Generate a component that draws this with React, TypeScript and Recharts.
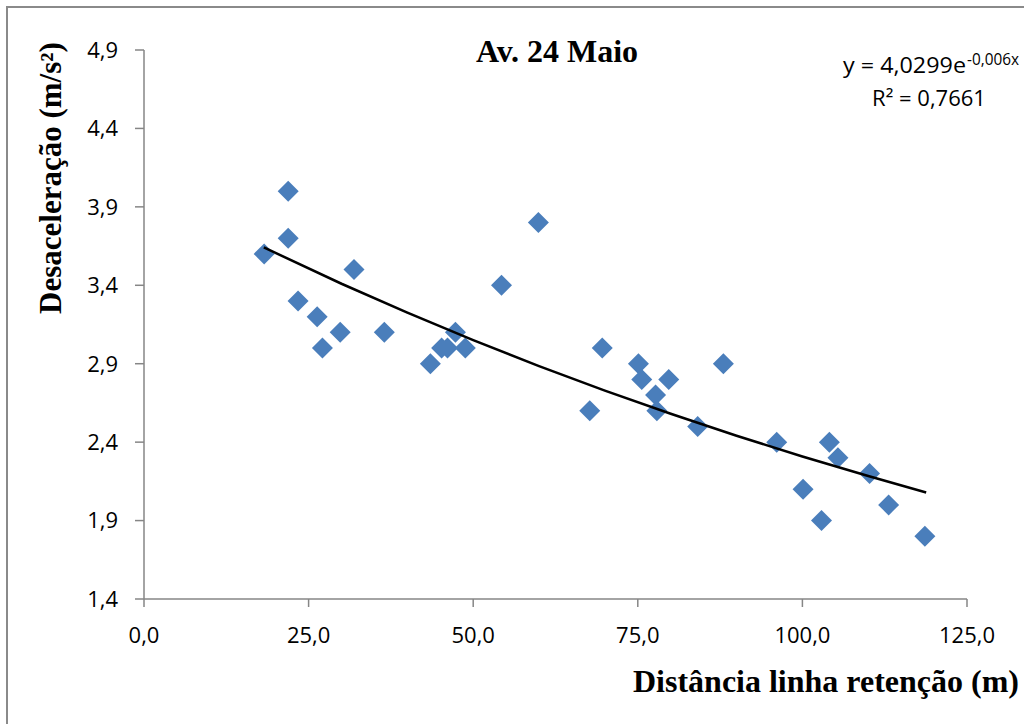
import React from 'react';
import { ScatterChart, Scatter, XAxis, YAxis } from 'recharts';

const distances = [18.25, 21.9, 21.9, 23.4, 26.3, 27.1, 29.8, 31.9, 36.5, 43.5, 45.2, 46.1, 47.3, 48.8, 54.3, 59.9, 67.7, 69.6, 75.1, 75.6, 77.7, 77.9, 79.7, 84.1, 88.0, 96.1, 100.1, 102.9, 104.1, 105.4, 110.2, 113.1, 118.6];
const decels = [3.6, 4.0, 3.7, 3.3, 3.2, 3.0, 3.1, 3.5, 3.1, 2.9, 3.0, 3.0, 3.1, 3.0, 3.4, 3.8, 2.6, 3.0, 2.9, 2.8, 2.7, 2.6, 2.8, 2.5, 2.9, 2.4, 2.1, 1.9, 2.4, 2.3, 2.2, 2.0, 1.8];

const trendX = [18.2, 30, 40, 50, 60, 70, 80, 90, 100, 110, 118.8];
const trendY = [3.6414, 3.4098, 3.2251, 3.0504, 2.8851, 2.7288, 2.581, 2.4411, 2.3089, 2.1838, 2.0794];

const xTicks = [0, 25, 50, 75, 100, 125];
const yTicks = [1.4, 1.9, 2.4, 2.9, 3.4, 3.9, 4.4, 4.9];

const title = 'Av. 24 Maio';
const xTitle = 'Distância linha retenção (m)';
const yTitle = 'Desaceleração (m/s²)';
const eqMain = 'y = 4,0299e';
const eqSup = '-0,006x';
const eqR2 = 'R² = 0,7661';

const points = distances.map((x, i) => ({ x, y: decels[i] }));
const trend = trendX.map((x, i) => ({ x, y: trendY[i] }));

const fmt = (v: number) => v.toFixed(1).replace('.', ',');

const AXIS = '#868686';
const BLUE = '#4A7EBB';

const Diamond = (props: any) => {
  const { cx, cy } = props;
  if (cx == null || cy == null) return <g />;
  const r = 10.5;
  return <path d={`M${cx},${cy - r}L${cx + r},${cy}L${cx},${cy + r}L${cx - r},${cy}Z`} fill={BLUE} />;
};

const NoShape = () => <g />;

export default function App() {
  return (
    <div style={{ position: 'absolute', left: 0, top: 0, width: 1024, height: 724, overflow: 'hidden', background: '#fff' }}>
      <div style={{ position: 'absolute', left: 6, top: 6, width: 1100, height: 800, border: '2px solid #8a8a8a', boxSizing: 'border-box' }} />
      <div style={{ position: 'absolute', left: 0, top: 0 }}>
        <ScatterChart width={1024} height={724} margin={{ top: 50, right: 57, left: 0, bottom: 0 }}>
          <XAxis
            type="number"
            dataKey="x"
            domain={[0, 125]}
            ticks={xTicks}
            interval={0}
            tickFormatter={fmt}
            height={125}
            axisLine={{ stroke: AXIS, strokeWidth: 1.5 }}
            tickLine={{ stroke: AXIS, strokeWidth: 1.5 }}
            tickSize={8}
            tickMargin={20}
            tick={{ fontSize: 22, fontFamily: 'Open Sans', fill: '#000' }}
          />
          <YAxis
            type="number"
            dataKey="y"
            domain={[1.4, 4.9]}
            ticks={yTicks}
            interval={0}
            tickFormatter={fmt}
            width={144}
            axisLine={{ stroke: AXIS, strokeWidth: 1.5 }}
            tickLine={{ stroke: AXIS, strokeWidth: 1.5 }}
            tickSize={9}
            tickMargin={17}
            tick={{ fontSize: 22, fontFamily: 'Open Sans', fill: '#000' }}
          />
          <Scatter data={points} shape={<Diamond />} isAnimationActive={false} />
          <Scatter data={trend} shape={<NoShape />} line={{ stroke: '#000', strokeWidth: 2.5 }} lineType="joint" isAnimationActive={false} />
        </ScatterChart>
      </div>
      <svg width={1024} height={724} style={{ position: 'absolute', left: 0, top: 0, pointerEvents: 'none' }}>
        <text x={557} y={62} textAnchor="middle" fontFamily="Liberation Serif" fontWeight="bold" fontSize={32} fill="#000">{title}</text>
        <text x={1019} y={692} textAnchor="end" fontFamily="Liberation Serif" fontWeight="bold" fontSize={32} fill="#000">{xTitle}</text>
        <text transform="translate(61,178) rotate(-90)" x={0} y={0} textAnchor="middle" fontFamily="Liberation Serif" fontWeight="bold" fontSize={31} fill="#000">{yTitle}</text>
        <text x={843} y={73} fontFamily="Open Sans" fontSize={22} fill="#000" textLength={123} lengthAdjust="spacingAndGlyphs">{eqMain}</text>
        <text x={967} y={65} fontFamily="Open Sans" fontSize={16} fill="#000" textLength={52} lengthAdjust="spacingAndGlyphs">{eqSup}</text>
        <text x={929} y={106} textAnchor="middle" fontFamily="Open Sans" fontSize={22} fill="#000">{eqR2}</text>
      </svg>
    </div>
  );
}
